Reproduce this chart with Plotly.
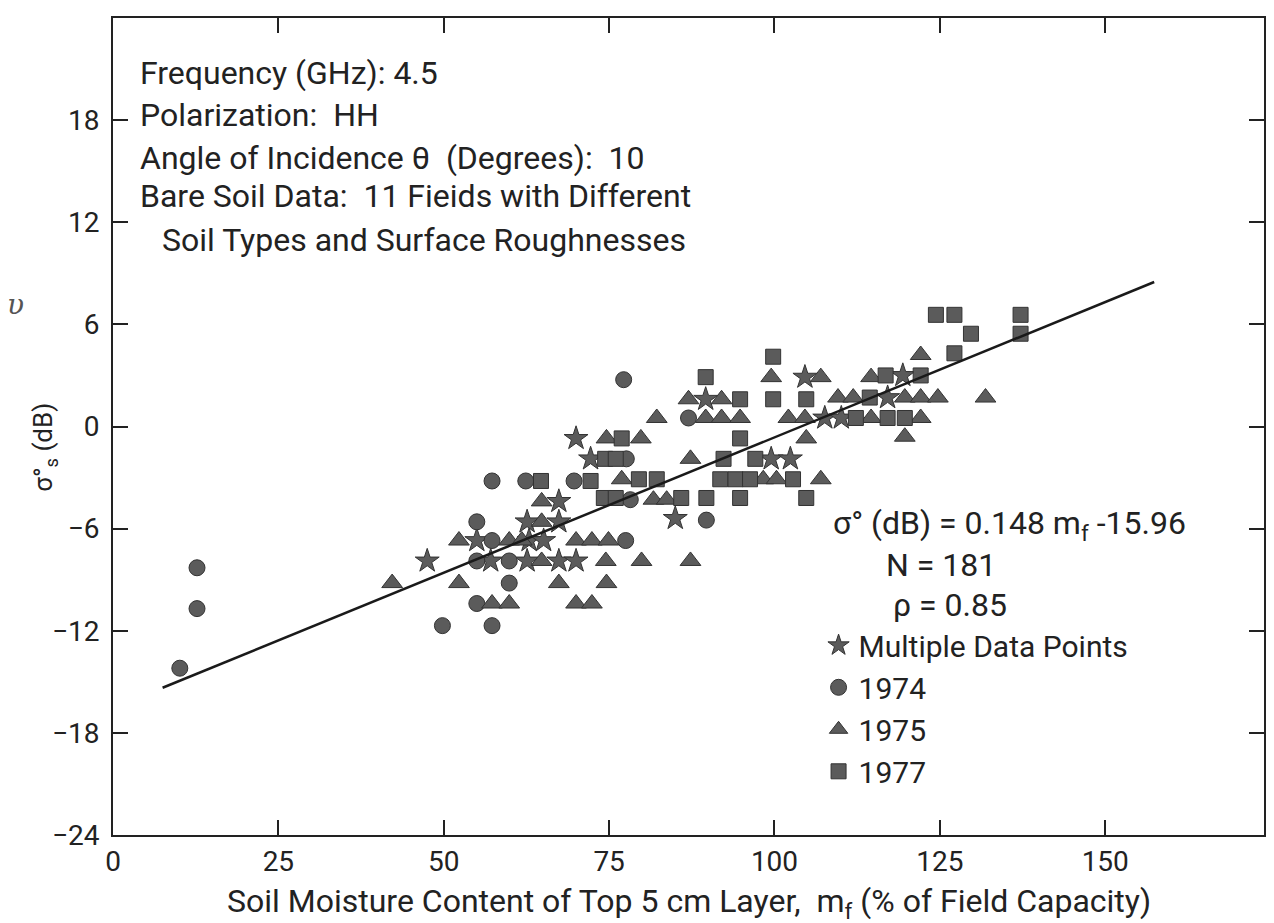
import plotly.graph_objects as go

# ---------------- data ----------------
# 1974 (circles)
c74_x = [10.1, 12.7, 12.7, 49.8, 57.3, 55.0, 59.9, 55.0, 59.9, 57.3, 77.5, 55.0,
         89.7, 57.3, 62.4, 69.7, 77.6, 87.0, 77.2, 78.2]
c74_y = [-14.2, -8.3, -10.7, -11.7, -11.7, -10.4, -9.2, -7.9, -7.9, -6.7, -6.7, -5.6,
         -5.5, -3.2, -3.2, -3.2, -1.9, 0.5, 2.75, -4.3]

# 1975 (triangles)
t75_x = [42.2, 52.3, 52.3, 59.9, 61.8, 57.3, 59.9, 64.8, 64.8, 64.8, 67.4, 70.0, 72.4,
         74.9, 70.0, 72.4, 74.5, 79.9, 87.3, 74.6, 74.6, 79.8, 76.9, 81.7, 83.7, 82.2,
         87.3, 87.0, 92.0, 89.6, 92.0, 94.8, 98.3, 100.3, 99.5, 107.0, 104.8, 102.1,
         104.6, 107.0, 109.6, 111.9, 114.6, 114.6, 119.7, 122.1, 124.7, 131.9, 122.1,
         119.7, 122.1]
t75_y = [-9.2, -6.7, -9.2, -6.7, -6.7, -10.4, -10.4, -4.4, -5.6, -7.9, -9.2, -6.7, -6.7,
         -6.7, -10.4, -10.4, -7.9, -7.9, -7.9, -9.2, -0.7, -0.7, -3.1, -4.3, -4.3, 0.5,
         -1.9, 1.6, 1.6, 0.5, 0.5, 0.5, -3.1, -3.1, 2.9, 2.9, -0.7, 0.5,
         0.5, -3.1, 1.7, 1.7, 0.5, 2.9, 1.7, 1.7, 1.7, 1.7, 0.5,
         -0.6, 4.2]

# 1977 (squares)
s77_x = [64.7, 72.2, 76.9, 74.4, 76.0, 74.2, 76.0, 85.9, 89.7, 94.8, 104.8, 79.5, 82.2,
         91.8, 94.1, 96.3, 102.8, 92.3, 97.1, 94.8, 94.8, 99.8, 104.8, 114.4, 89.6,
         116.8, 122.1, 99.8, 127.2, 112.3, 117.1, 119.7, 129.7, 137.2, 124.4, 127.2, 137.2]
s77_y = [-3.2, -3.2, -0.7, -1.9, -1.9, -4.2, -4.2, -4.2, -4.2, -4.2, -4.2, -3.1, -3.1,
         -3.1, -3.1, -3.1, -3.1, -1.9, -1.9, -0.7, 1.6, 1.6, 1.6, 1.7, 2.9,
         3.0, 3.0, 4.1, 4.3, 0.5, 0.5, 0.5, 5.45, 5.45, 6.56, 6.56, 6.56]

# Multiple data points (stars)
star_x = [47.5, 55.0, 57.1, 62.6, 62.9, 65.1, 62.6, 67.4, 67.4, 67.4, 70.0, 70.0, 72.2,
          85.0, 89.6, 99.5, 102.4, 104.6, 107.6, 110.1, 117.1, 119.4]
star_y = [-7.9, -6.7, -7.9, -7.9, -6.7, -6.7, -5.6, -5.6, -4.4, -7.9, -7.9, -0.7, -1.9,
          -5.4, 1.6, -1.9, -1.9, 2.9, 0.5, 0.5, 1.7, 3.0]

# regression line end points as drawn
line_x = [7.5, 157.4]
line_y = [-15.35, 8.49]

x_ticks = [0, 25, 50, 75, 100, 125, 150]
y_ticks = [-24, -18, -12, -6, 0, 6, 12, 18]

info_lines = [
    "Frequency (GHz): 4.5",
    "Polarization:  HH",
    "Angle of Incidence \u03b8  (Degrees):  10",
    "Bare Soil Data:  11 Fieids with Different",
    "Soil Types and Surface Roughnesses",
]

# ---------------- figure ----------------
FONT = "Roboto, DejaVu Sans, sans-serif"
INK = "#222222"
MK = "#5b5b5b"
MKL = "#333333"

fig = go.Figure()
fig.add_trace(go.Scatter(x=star_x, y=star_y, mode="markers", name="Multiple Data Points",
                         marker=dict(symbol="star", size=18, color=MK, line=dict(color=MKL, width=1))))
fig.add_trace(go.Scatter(x=c74_x, y=c74_y, mode="markers", name="1974",
                         marker=dict(symbol="circle", size=16, color=MK, line=dict(color=MKL, width=1))))
fig.add_trace(go.Scatter(x=t75_x, y=t75_y, mode="markers", name="1975",
                         marker=dict(symbol="triangle-up", size=18, color=MK, line=dict(color=MKL, width=1))))
fig.add_trace(go.Scatter(x=s77_x, y=s77_y, mode="markers", name="1977",
                         marker=dict(symbol="square", size=15, color=MK, line=dict(color=MKL, width=1))))
fig.add_trace(go.Scatter(x=line_x, y=line_y, mode="lines", showlegend=False,
                         line=dict(color="#1a1a1a", width=2.5)))

axis_common = dict(showline=True, linewidth=2, linecolor=INK, mirror="ticks",
                   ticks="inside", ticklen=15, tickwidth=2, tickcolor=INK,
                   showgrid=False, zeroline=False,
                   tickfont=dict(family=FONT, size=28, color=INK))

fig.update_layout(
    width=1274, height=923,
    margin=dict(l=113, r=8, t=18, b=88),
    paper_bgcolor="white", plot_bgcolor="white",
    font=dict(family=FONT, color=INK),
    xaxis=dict(range=[0, 174], tickvals=x_ticks, **axis_common),
    yaxis=dict(range=[-24, 24], tickvals=y_ticks, ticklabelstandoff=6, **axis_common),
    legend=dict(x=0.613, y=0.264, xanchor="left", yanchor="top",
                bgcolor="rgba(0,0,0,0)", font=dict(family=FONT, size=30, color=INK),
                tracegroupgap=0, itemsizing="trace"),
)

ann = []
info_y = [0.933, 0.881, 0.829, 0.782, 0.728]
info_x = [0.0217, 0.0217, 0.0217, 0.0217, 0.0408]
for t, xx, yy in zip(info_lines, info_x, info_y):
    ann.append(dict(text=t, x=xx, y=yy, xref="paper", yref="paper", xanchor="left",
                    yanchor="middle", showarrow=False, font=dict(family=FONT, size=32, color=INK)))

ann.append(dict(text="\u03c3\u00b0 (dB) = 0.148 m<sub>f</sub> -15.96", x=0.624, y=0.379,
                xref="paper", yref="paper", xanchor="left", yanchor="middle", showarrow=False,
                font=dict(family=FONT, size=32, color=INK)))
ann.append(dict(text="N = 181", x=0.670, y=0.330, xref="paper", yref="paper",
                xanchor="left", yanchor="middle", showarrow=False,
                font=dict(family=FONT, size=32, color=INK)))
ann.append(dict(text="\u03c1 = 0.85", x=0.676, y=0.2815, xref="paper", yref="paper",
                xanchor="left", yanchor="middle", showarrow=False,
                font=dict(family=FONT, size=32, color=INK)))
ann.append(dict(text="\u03c3\u00b0<sub>s</sub> (dB)", x=-0.059, y=0.474, xref="paper", yref="paper",
                xanchor="center", yanchor="middle", textangle=-90, showarrow=False,
                font=dict(family=FONT, size=26, color=INK)))
ann.append(dict(text="Soil Moisture Content of Top 5 cm Layer,  m<sub>f</sub> (% of Field Capacity)",
                x=0.5, y=-0.083, xref="paper", yref="paper", xanchor="center", yanchor="middle",
                showarrow=False, font=dict(family=FONT, size=32, color=INK)))
ann.append(dict(text="<i>\u03c5</i>", x=-0.094, y=0.649, xref="paper", yref="paper",
                xanchor="left", yanchor="middle", showarrow=False,
                font=dict(family="DejaVu Serif", size=28, color="#555555")))
fig.update_layout(annotations=ann)

fig.write_html("out.html")
